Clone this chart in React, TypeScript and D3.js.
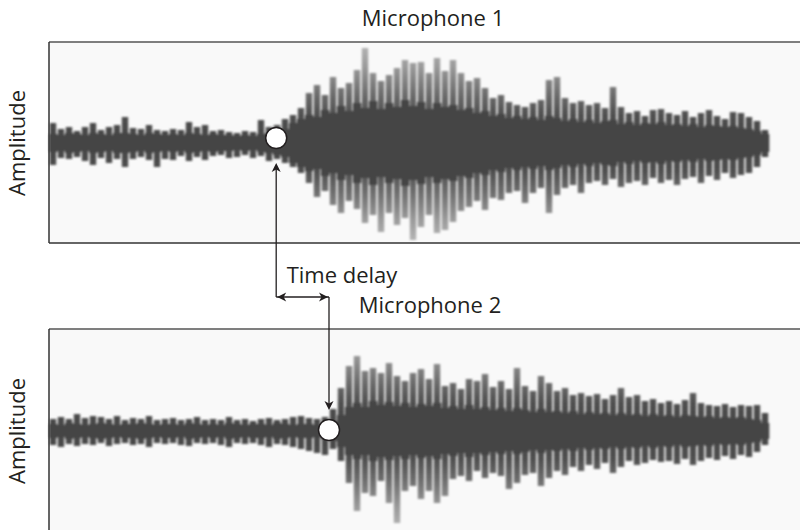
import React from "react";
import * as d3 from "d3";

// ---- data (amplitude in arbitrary units, ±100 = panel half height) ----
const mic1Upper = [
  20, 14, 16, 12, 16, 20, 13, 16, 18, 26,
  15, 14, 18, 13, 12, 14, 13, 21, 16, 18,
  12, 13, 11, 10, 12, 11, 23, 16, 18, 24,
  28, 35, 50, 58, 48, 66, 55, 60, 73, 95,
  70, 62, 68, 75, 83, 80, 81, 70, 85, 72,
  83, 70, 62, 65, 55, 45, 48, 41, 38, 36,
  40, 43, 63, 66, 45, 40, 42, 38, 40, 35,
  56, 36, 30, 32, 27, 33, 34, 30, 28, 32,
  26, 30, 33, 27, 24, 31, 30, 26, 22, 13,
];
const mic1Lower = [
  22, 15, 16, 14, 18, 22, 15, 20, 16, 24,
  16, 14, 17, 24, 16, 17, 13, 18, 14, 17,
  13, 12, 15, 14, 12, 15, 13, 18, 16, 20,
  24, 30, 40, 54, 48, 62, 70, 58, 66, 80,
  72, 89, 70, 82, 75, 97, 84, 72, 90, 87,
  79, 68, 64, 58, 67, 55, 57, 50, 48, 60,
  50, 45, 70, 52, 45, 42, 50, 40, 38, 42,
  36, 44, 40, 38, 42, 35, 40, 37, 42, 36,
  34, 40, 33, 37, 30, 35, 32, 30, 24, 14,
];
const mic1Core = [
  9, 8, 10, 9, 8, 10, 9, 8, 10, 10,
  9, 8, 10, 9, 8, 9, 8, 10, 9, 8,
  9, 8, 8, 7, 8, 7, 9, 10, 12, 14,
  20, 24, 28, 26, 33, 30, 37, 32, 40, 35,
  42, 34, 40, 36, 43, 37, 41, 34, 40, 36,
  38, 33, 35, 30, 32, 27, 29, 25, 27, 24,
  26, 23, 27, 25, 22, 24, 21, 23, 20, 22,
  23, 19, 21, 18, 20, 19, 21, 18, 19, 17,
  19, 16, 18, 17, 16, 17, 15, 14, 12, 9,
];

const mic2Upper = [
  12, 14, 12, 17, 13, 15, 14, 12, 15, 11,
  13, 12, 15, 11, 12, 13, 11, 12, 14, 11,
  12, 11, 14, 11, 12, 10, 12, 13, 11, 12,
  14, 15, 13, 12, 14, 22, 43, 65, 75, 60,
  63, 58, 68, 55, 50, 58, 62, 52, 67, 45,
  48, 42, 52, 50, 57, 44, 50, 42, 63, 45,
  40, 55, 48, 40, 43, 36, 38, 35, 37, 32,
  36, 43, 34, 36, 30, 32, 28, 30, 27, 31,
  38, 28, 26, 25, 27, 24, 26, 25, 26, 18,
];
const mic2Lower = [
  14, 16, 13, 15, 13, 14, 12, 15, 13, 12,
  14, 13, 16, 12, 13, 12, 14, 15, 12, 13,
  12, 14, 16, 12, 13, 12, 14, 16, 13, 14,
  16, 18, 20, 22, 24, 18, 30, 52, 80, 62,
  65, 50, 72, 92, 60, 55, 68, 60, 72, 65,
  48, 45, 50, 40, 47, 42, 45, 58, 52, 44,
  42, 55, 47, 40, 44, 36, 40, 34, 38, 32,
  42, 36, 30, 34, 32, 29, 31, 30, 33, 28,
  34, 30, 27, 29, 25, 28, 24, 26, 21, 14,
];
const mic2Core = [
  7, 6, 8, 7, 6, 7, 8, 7, 6, 7,
  7, 8, 7, 6, 7, 7, 6, 8, 7, 6,
  7, 6, 8, 7, 6, 7, 7, 6, 8, 7,
  6, 7, 7, 6, 8, 10, 16, 24, 28, 24,
  30, 26, 29, 25, 28, 24, 27, 25, 28, 23,
  25, 22, 26, 22, 24, 21, 23, 20, 23, 21,
  19, 22, 19, 20, 18, 20, 17, 19, 17, 18,
  16, 18, 16, 17, 15, 17, 15, 16, 14, 16,
  15, 14, 15, 13, 14, 13, 14, 12, 11, 8,
];

// onset (arrival) times, in sample-bin units
const onsets = [28.4, 35.0];
const panelTitles = ["Microphone 1", "Microphone 2"];
const yLabel = "Amplitude";
const delayLabel = "Time delay";

const FONT = "'Open Sans', 'Noto Sans', sans-serif";
const INK = "#231f20";
const FS = 22;

type PanelProps = {
  id: string;
  top: number;
  bottom: number;
  center: number;
  upper: number[];
  lower: number[];
  core: number[];
  x: d3.ScaleLinear<number, number>;
};

function Panel({ id, top, bottom, center, upper, lower, core, x }: PanelProps) {
  const y = d3.scaleLinear().domain([-100, 100]).range([center + 100, center - 100]);
  const bw = x(1) - x(0);
  return (
    <g>
      <defs>
        <linearGradient id={`grad-${id}`} gradientUnits="userSpaceOnUse" x1={0} x2={0} y1={y(100)} y2={y(-100)}>
          <stop offset="0%" stopColor="#b8b8b8" />
          <stop offset="12%" stopColor="#9a9a9a" />
          <stop offset="26%" stopColor="#6c6c6c" />
          <stop offset="36%" stopColor="#505050" />
          <stop offset="50%" stopColor="#454545" />
          <stop offset="64%" stopColor="#505050" />
          <stop offset="74%" stopColor="#6c6c6c" />
          <stop offset="88%" stopColor="#9a9a9a" />
          <stop offset="100%" stopColor="#b8b8b8" />
        </linearGradient>
      </defs>
      <rect x={49} y={top} width={800 - 49} height={bottom - top} fill="#f9f9f9" />
      <g filter="url(#soft)">
        {upper.map((u, i) => (
          <rect
            key={`s${i}`}
            x={x(i + 0.5) - bw * 0.4}
            width={bw * 0.8}
            y={y(u)}
            height={y(-lower[i]) - y(u)}
            fill={`url(#grad-${id})`}
          />
        ))}
        {core.map((c, i) => (
          <rect
            key={`c${i}`}
            x={x(i)}
            width={bw + 0.3}
            y={y(c)}
            height={y(-c) - y(c)}
            fill="#444"
          />
        ))}
      </g>
      <line x1={49} x2={800} y1={top} y2={top} stroke="#555" strokeWidth={1.5} />
      <line x1={49} x2={49} y1={top} y2={bottom} stroke="#333" strokeWidth={1.5} />
      {bottom < 530 && <line x1={49} x2={800} y1={bottom} y2={bottom} stroke="#333" strokeWidth={1.5} />}
    </g>
  );
}

export default function App() {
  const N = mic1Upper.length;
  const x = d3.scaleLinear().domain([0, N]).range([49, 769]);
  const c1 = 143;
  const c2 = 431;
  const x1 = x(onsets[0]);
  const x2 = x(onsets[1]);
  const yArrow = 297;
  const head = (tx: number, ty: number, dir: "up" | "down" | "left" | "right") => {
    const L = 9, Wd = 4.5;
    let pts: [number, number][] = [];
    if (dir === "up") pts = [[tx, ty], [tx - Wd, ty + L], [tx, ty + L - 2.5], [tx + Wd, ty + L]];
    if (dir === "down") pts = [[tx, ty], [tx - Wd, ty - L], [tx, ty - L + 2.5], [tx + Wd, ty - L]];
    if (dir === "left") pts = [[tx, ty], [tx + L, ty - Wd], [tx + L - 2.5, ty], [tx + L, ty + Wd]];
    if (dir === "right") pts = [[tx, ty], [tx - L, ty - Wd], [tx - L + 2.5, ty], [tx - L, ty + Wd]];
    return <path d={"M" + pts.map((p) => p.join(",")).join("L") + "Z"} fill={INK} />;
  };
  return (
    <svg
      width={800}
      height={530}
      style={{ position: "fixed", left: 0, top: 0, background: "#fff" }}
      fontFamily={FONT}
    >
      <defs>
        <filter id="soft" x="-5%" y="-5%" width="110%" height="110%">
          <feGaussianBlur stdDeviation={1.1} />
        </filter>
      </defs>
      <rect width={800} height={530} fill="#fff" />
      <Panel id="a" top={42} bottom={243} center={c1} upper={mic1Upper} lower={mic1Lower} core={mic1Core} x={x} />
      <Panel id="b" top={329} bottom={560} center={c2} upper={mic2Upper} lower={mic2Lower} core={mic2Core} x={x} />

      <text x={433} y={26} textAnchor="middle" fontSize={FS} fill={INK}>{panelTitles[0]}</text>
      <text x={430} y={313} textAnchor="middle" fontSize={FS} fill={INK}>{panelTitles[1]}</text>
      <text x={342} y={283} textAnchor="middle" fontSize={FS} fill={INK}>{delayLabel}</text>
      <text transform={`translate(25,${c1}) rotate(-90)`} textAnchor="middle" fontSize={FS} fill={INK}>{yLabel}</text>
      <text transform={`translate(25,${c2}) rotate(-90)`} textAnchor="middle" fontSize={FS} fill={INK}>{yLabel}</text>

      {/* arrows */}
      <line x1={x1} x2={x1} y1={yArrow} y2={166} stroke={INK} strokeWidth={1.3} />
      {head(x1, 163, "up")}
      <line x1={x1} x2={x2} y1={yArrow} y2={yArrow} stroke={INK} strokeWidth={1.3} />
      {head(x1 + 1, yArrow, "left")}
      {head(x2 - 1, yArrow, "right")}
      <line x1={x2} x2={x2} y1={yArrow} y2={406} stroke={INK} strokeWidth={1.3} />
      {head(x2, 410, "down")}

      <circle cx={x1} cy={c1 - 5} r={10.5} fill="#fff" stroke={INK} strokeWidth={1.5} />
      <circle cx={x2} cy={c2 - 1} r={10.5} fill="#fff" stroke={INK} strokeWidth={1.5} />
    </svg>
  );
}
